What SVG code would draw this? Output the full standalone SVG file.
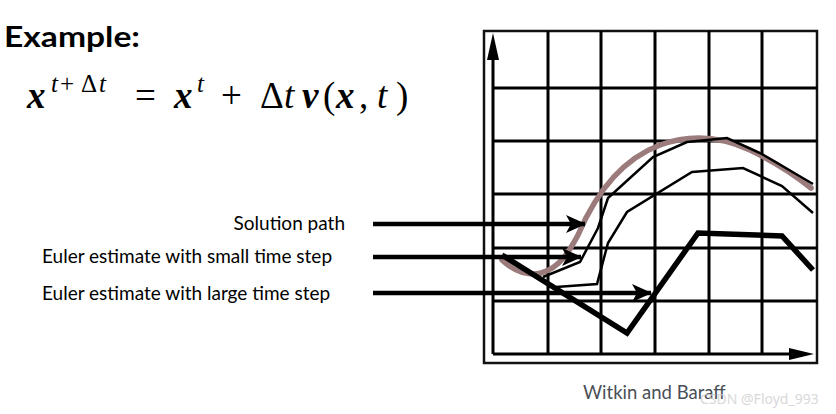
<svg xmlns="http://www.w3.org/2000/svg" width="836" height="414" viewBox="0 0 836 414">
<style>
.lbl{font-family:Lato,"Noto Sans",sans-serif;font-size:19px;fill:#000}
.grid{stroke:#000;stroke-width:3;fill:none}
.conn{stroke:#000;stroke-width:4.5;fill:none}
.math{font-family:"Liberation Serif","DejaVu Serif",serif;font-size:37px;fill:#000}
.sup{font-size:25px}
.bi{font-weight:bold;font-style:italic}
.it{font-style:italic}
</style>
<defs>
<marker id="ah" viewBox="0 0 20 20" refX="19" refY="10" markerWidth="20" markerHeight="20" markerUnits="userSpaceOnUse" orient="auto">
<path d="M0,1 L20,10 L0,19 L5,10 Z" fill="#000"/>
</marker>
</defs>
<rect width="836" height="414" fill="#fff"/>
<g id="title"><text x="4" y="47" font-family="Lato,'Noto Sans',sans-serif" font-weight="bold" font-size="28" textLength="136" lengthAdjust="spacingAndGlyphs">Example:</text></g>
<g id="equation">
<text class="math" y="108"><tspan class="bi" x="27">x</tspan><tspan class="it sup" x="51" y="92">t</tspan><tspan class="sup" x="60">+</tspan><tspan class="sup" x="81">Δ</tspan><tspan class="it sup" x="99">t</tspan><tspan x="135" y="108">=</tspan><tspan class="bi" x="174">x</tspan><tspan class="it sup" x="197" y="92">t</tspan><tspan x="221" y="108">+</tspan><tspan x="260">Δ</tspan><tspan class="it" x="284">t</tspan><tspan class="bi" x="302">v</tspan><tspan x="323">(</tspan><tspan class="bi" x="336">x</tspan><tspan x="359">,</tspan><tspan class="it" x="377">t</tspan><tspan x="396">)</tspan></text>
</g>
<g id="chart">
<rect x="484" y="31" width="333" height="332" fill="none" stroke="#111" stroke-width="2.5"/>
<path class="grid" d="M548,31V354 M601,31V354 M655,31V354 M709,31V354 M762,31V354 M493,88H817 M493,141H817 M493,194H817 M493,248H817 M493,301H817"/>
<path d="M493,354V58 M493,354H792" stroke="#000" stroke-width="3" fill="none"/>
<path d="M493,33 L487,60 L499,60 Z" fill="#000"/>
<path d="M814,354 L789,348 L789,360 Z" fill="#000"/>
</g>
<g id="solution-path"><path d="M502,260 C515,272 528,276 541,273 C560,268 570,250 578,235 C595,195 620,160 660,145 C690,134 720,136 750,150 C775,162 795,175 811,188" fill="none" stroke="#9b7b7b" stroke-width="5.5" stroke-linecap="round"/></g>
<g id="small-step-1"><path d="M543,277 L580,262 L598,228 L608,198 L653,157 L687,142 L727,138 L760,153 L813,184" fill="none" stroke="#000" stroke-width="2.5"/></g>
<g id="small-step-2"><path d="M556,287 L597,284 L608,243 L627,212 L692,172 L743,168 L782,186 L813,213" fill="none" stroke="#000" stroke-width="2.5"/></g>
<g id="large-step"><path d="M502,255 L627,333 L698,233 L782,236 L813,270" fill="none" stroke="#000" stroke-width="5.5"/></g>
<g id="connectors">
<path class="conn" d="M373,224H585" marker-end="url(#ah)"/>
<path class="conn" d="M373,257H581" marker-end="url(#ah)"/>
<path class="conn" d="M373,293H651" marker-end="url(#ah)"/>
</g>
<g id="label-solution"><text class="lbl" x="345" y="230" text-anchor="end">Solution path</text></g>
<g id="label-small"><text class="lbl" x="42" y="263">Euler estimate with small time step</text></g>
<g id="label-large"><text class="lbl" x="42" y="300">Euler estimate with large time step</text></g>
<g id="credit"><text x="583" y="399" font-family="Lato,'Noto Sans',sans-serif" font-size="18.5" fill="#4a4f57">Witkin and Baraff</text>
<text x="700" y="404" font-family="'Noto Sans',sans-serif" font-size="14" fill="#d0d0d0" opacity="0.8">CSDN @Floyd_993</text></g>
</svg>
